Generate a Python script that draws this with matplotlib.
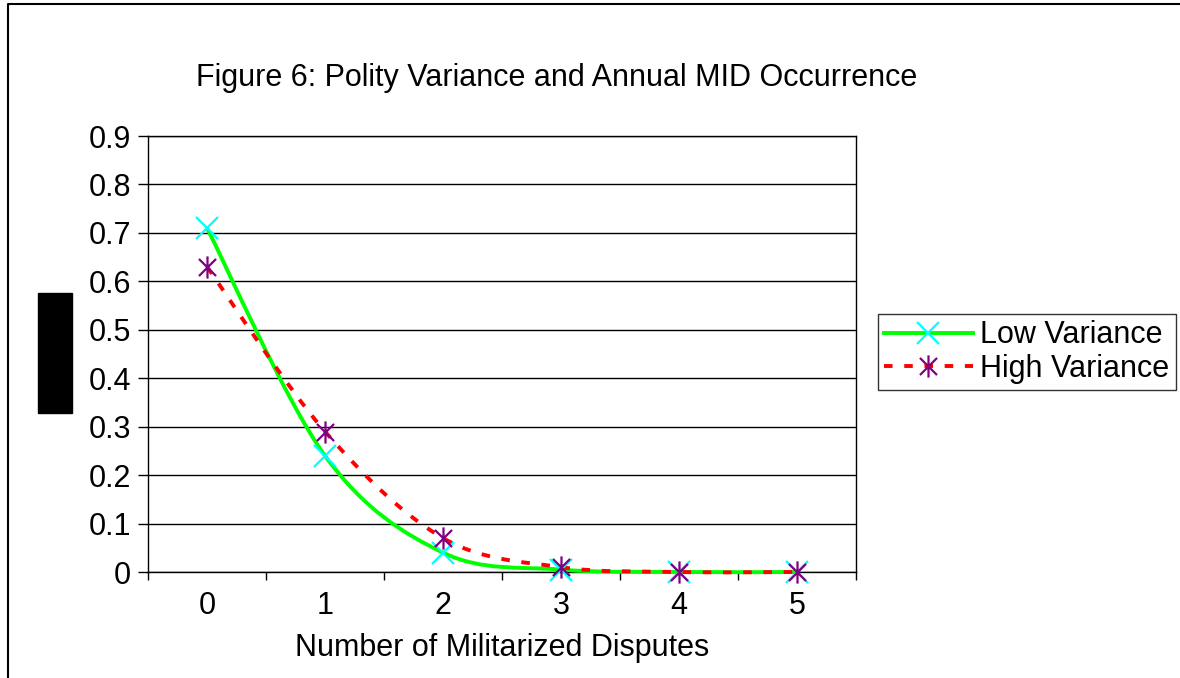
import matplotlib.pyplot as plt
from matplotlib.path import Path
from matplotlib.patches import PathPatch, Rectangle
from matplotlib.lines import Line2D
import numpy as np

plt.rcParams['font.family'] = ['Liberation Sans', 'DejaVu Sans']

disputes = [0, 1, 2, 3, 4, 5]
low_variance = [0.71, 0.24, 0.04, 0.005, 0.0, 0.0]
high_variance = [0.63, 0.29, 0.07, 0.01, 0.0, 0.0]
yticks = [0, 0.1, 0.2, 0.3, 0.4, 0.5, 0.6, 0.7, 0.8, 0.9]
ytick_labels = ['0', '0.1', '0.2', '0.3', '0.4', '0.5', '0.6', '0.7', '0.8', '0.9']

FS = 22
LW = 2.8
DASH = (0, (2.2, 3.0))


def smooth_path(xs, ys):
    # Excel-style smoothed line: Catmull-Rom segments as cubic Beziers
    pts = np.column_stack([xs, ys]).astype(float)
    ext = np.vstack([pts[0], pts, pts[-1]])
    verts = [pts[0]]
    codes = [Path.MOVETO]
    for i in range(1, len(ext) - 2):
        p0, p1, p2, p3 = ext[i - 1], ext[i], ext[i + 1], ext[i + 2]
        verts += [p1 + (p2 - p0) / 6, p2 - (p3 - p1) / 6, p2]
        codes += [Path.CURVE4] * 3
    return Path(verts, codes)


# asterisk marker: an x with a vertical bar through it
star = Path([(-1, -1), (1, 1), (-1, 1), (1, -1), (0, -1.3), (0, 1.3)],
            [Path.MOVETO, Path.LINETO, Path.MOVETO, Path.LINETO, Path.MOVETO, Path.LINETO])

fig = plt.figure(figsize=(11.8, 6.78), dpi=100)
ax = fig.add_axes([148 / 1180, 1 - 572 / 678, 708 / 1180, 436 / 678])

ax.add_patch(PathPatch(smooth_path(disputes, low_variance), fill=False,
                       edgecolor='#00ff00', lw=LW, zorder=3, clip_on=False))
ax.add_patch(PathPatch(smooth_path(disputes, high_variance), fill=False,
                       edgecolor='#ff0000', lw=LW, linestyle=DASH, zorder=3, clip_on=False))
ax.plot(disputes, low_variance, linestyle='none', marker='x', color='#00ffff',
        markersize=16, markeredgewidth=1.6, zorder=4, clip_on=False)
ax.plot(disputes, high_variance, linestyle='none', marker=star, color='#800080',
        markersize=16, markeredgewidth=1.6, zorder=4, clip_on=False)

ax.set_xlim(-0.5, 5.5)
ax.set_ylim(0, 0.9)
ax.set_yticks(yticks)
ax.set_yticklabels(ytick_labels)
ax.set_xticks(disputes)
ax.set_xticks(np.arange(-0.5, 5.6, 1), minor=True)
ax.tick_params(axis='x', which='major', length=0, labelsize=FS, pad=14)
ax.tick_params(axis='x', which='minor', length=6, width=1, direction='out')
ax.tick_params(axis='y', length=7, width=1, direction='out', labelsize=FS, pad=5)
ax.yaxis.grid(True, color='black', lw=1)
ax.set_axisbelow(True)
for s in ax.spines.values():
    s.set_color('black')
    s.set_linewidth(1)

ax.set_xlabel('Number of Militarized Disputes', fontsize=FS, labelpad=8)
fig.text(196 / 1180, 1 - 78 / 678, 'Figure 6: Polity Variance and Annual MID Occurrence',
         fontsize=FS, ha='left', va='center')

handles = [
    Line2D([], [], color='#00ff00', lw=LW, marker='x', markersize=16,
           markeredgecolor='#00ffff', markeredgewidth=1.6),
    Line2D([], [], color='#ff0000', lw=LW, linestyle=DASH, marker=star,
           markersize=16, markeredgecolor='#800080', markeredgewidth=1.6),
]
leg = fig.legend(handles, ['Low Variance', 'High Variance'], loc='center left',
                 bbox_to_anchor=(878 / 1180, 1 - 352 / 678), fontsize=FS,
                 frameon=True, fancybox=False, edgecolor='black', handlelength=2.9,
                 borderpad=0.2, labelspacing=0.1, handletextpad=0.25, borderaxespad=0)
leg.get_frame().set_linewidth(1)

# redaction block on the left and the figure border (top and left edges)
fig.patches.append(Rectangle((38 / 1180, 1 - 413 / 678), 34 / 1180, 120 / 678,
                             transform=fig.transFigure, color='black'))
fig.add_artist(Line2D([8 / 1180, 8 / 1180, 1], [0, 1 - 4 / 678, 1 - 4 / 678],
                      transform=fig.transFigure, color='black', lw=1.5))

fig.savefig('out.png', dpi=100)
